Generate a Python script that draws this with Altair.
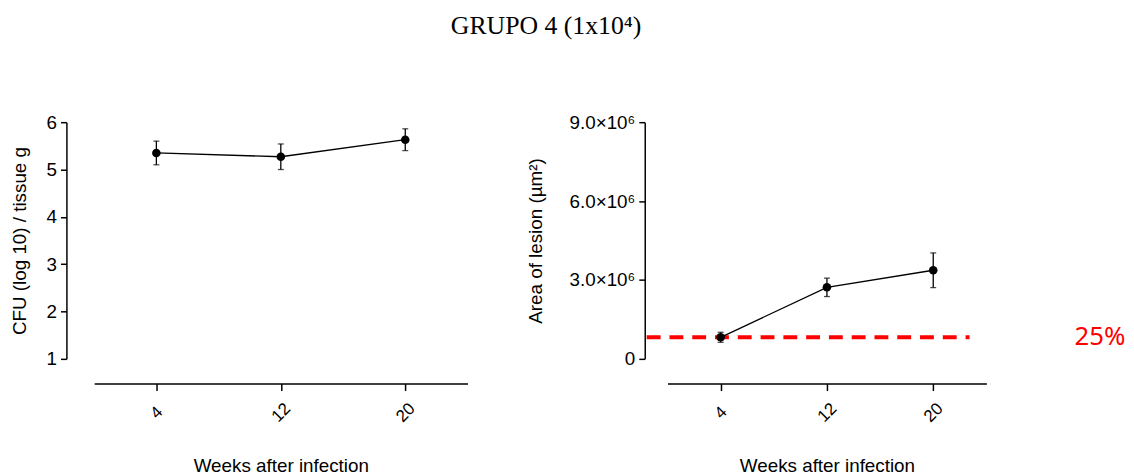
import altair as alt
import pandas as pd

weeks = [4, 12, 20]
cfu_mean = [5.35, 5.27, 5.63]
cfu_err = [0.25, 0.27, 0.23]
area_mean = [0.82e6, 2.72e6, 3.37e6]
area_err = [0.19e6, 0.35e6, 0.66e6]
threshold = [0.82e6]
threshold_label = ["25%"]

cfu = pd.DataFrame({
    "week": weeks,
    "mean": cfu_mean,
    "lo": [m - e for m, e in zip(cfu_mean, cfu_err)],
    "hi": [m + e for m, e in zip(cfu_mean, cfu_err)],
})
area = pd.DataFrame({
    "week": weeks,
    "mean": area_mean,
    "lo": [m - e for m, e in zip(area_mean, area_err)],
    "hi": [m + e for m, e in zip(area_mean, area_err)],
})
thr = pd.DataFrame({"value": threshold, "label": threshold_label})

FONT = "Liberation Sans"


def xaxis():
    return alt.Axis(
        title="Weeks after infection", labelAngle=-45, labelAlign="center",
        labelBaseline="middle", labelPadding=22, labelFontSize=17, titleFontSize=19,
        titlePadding=32, offset=25, domainColor="black", tickColor="black",
        domainWidth=1.5, tickWidth=1.5, tickSize=7, labelColor="black",
        titleColor="black", titleFontWeight="normal", labelFont=FONT, titleFont=FONT,
    )


def panel(df, ytitle, domain, ticks, yoffset, title_pad, label_expr=None):
    x = alt.X("week:O", scale=alt.Scale(type="point", padding=0.5), axis=xaxis())
    yaxis_kwargs = dict(
        title=ytitle, values=ticks, offset=yoffset, labelFontSize=19,
        titleFontSize=19, domainColor="black", tickColor="black",
        domainWidth=1.5, tickWidth=1.5, tickSize=6, labelColor="black",
        titleColor="black", titleFontWeight="normal", labelFont=FONT,
        titleFont=FONT, grid=False, labelPadding=4, titlePadding=title_pad,
    )
    if label_expr:
        yaxis_kwargs["labelExpr"] = label_expr
    y = alt.Y("mean:Q", scale=alt.Scale(domain=domain, nice=False, zero=False),
              axis=alt.Axis(**yaxis_kwargs))
    base = alt.Chart(df)
    line = base.mark_line(color="black", strokeWidth=1.3).encode(x=x, y=y)
    pts = base.mark_circle(color="black", opacity=1, size=75).encode(x=x, y=y)
    bars = base.mark_rule(color="black", strokeWidth=1.3).encode(
        x=x, y=alt.Y("lo:Q"), y2="hi:Q")
    cap_hi = base.mark_tick(color="black", size=6, thickness=1.3).encode(
        x=x, y=alt.Y("hi:Q"))
    cap_lo = base.mark_tick(color="black", size=6, thickness=1.3).encode(
        x=x, y=alt.Y("lo:Q"))
    return line, bars, cap_hi, cap_lo, pts


left = alt.layer(*panel(cfu, "CFU (log 10) / tissue g", [1, 6], [1, 2, 3, 4, 5, 6],
                        28, 17)).properties(width=377, height=239)

area_label = "datum.value == 0 ? '0' : format(datum.value / 1e6, '.1f') + '×10⁶'"
r_layers = panel(area, "Area of lesion (µm²)", [0, 9e6], [0, 3e6, 6e6, 9e6], 23, 24,
                 area_label)

dash = alt.Chart(thr).mark_rule(color="#ff0000", strokeWidth=4, strokeDash=[14, 9]).encode(
    y=alt.Y("value:Q"), x=alt.value(-21), x2=alt.value(305))
pct = alt.Chart(thr).mark_text(color="#ff0000", fontSize=26, font="Noto Sans",
                               align="left", baseline="middle").encode(
    y=alt.Y("value:Q"), x=alt.value(411), text="label:N")

right = alt.layer(dash, *r_layers, pct).properties(width=322, height=239)

chart = alt.hconcat(left, right, spacing=59).properties(
    title=alt.TitleParams("GRUPO 4 (1x10⁴)", font="Liberation Serif", fontSize=26,
                          fontWeight="normal", color="black", anchor="middle",
                          offset=75, dx=-22),
    padding={"left": 2, "top": 3, "right": 0, "bottom": 0},
).configure_view(stroke=None)

chart.save("out.html", embed_options={"renderer": "svg", "actions": False})
